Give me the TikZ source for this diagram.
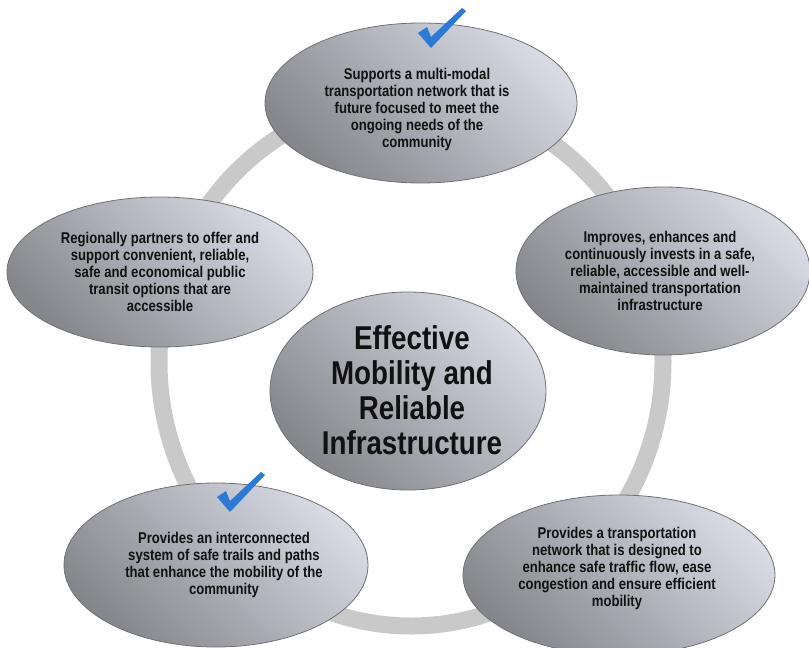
\documentclass[tikz,border=0pt]{standalone}
\usepackage{fontspec}
\setmainfont{Liberation Sans}[FakeStretch=0.84]
\usetikzlibrary{shapes.geometric}
\definecolor{ringgray}{HTML}{C9C9C9}
\definecolor{elldark}{HTML}{85868B}
\definecolor{elllight}{HTML}{D8DAE4}
\definecolor{ellline}{HTML}{707070}
\definecolor{chkblue}{HTML}{2A7AD6}
\definecolor{txtblack}{HTML}{111111}
\tikzset{
  ovalbox/.style={ellipse, draw=ellline, line width=0.8pt, inner sep=0pt,
    left color=elldark, right color=elllight, shading angle=135},
  smalltxt/.style={align=center, text=txtblack, font=\bfseries\fontsize{15.6}{17}\selectfont},
  bigtxt/.style={align=center, text=txtblack, font=\bfseries\fontsize{33}{35}\selectfont},
  ringline/.style={draw=ringgray, line width=17pt},
  checkmk/.pic={\fill[chkblue] (0,0) -- (-13,-15) -- (-4,-21) -- (0,-11) -- (31,-40) -- (35,-37) -- cycle;}
}
\begin{document}
\begin{tikzpicture}[x=1pt,y=-1pt]
\useasboundingbox (0,0) rectangle (809,648);
% ring
\draw[ringline] (411,362) ellipse (252 and 264);
% center
\node[ovalbox, minimum width=276pt, minimum height=198pt] (ctr) at (408,391) {};
% outer ellipses
\node[ovalbox, minimum width=312pt, minimum height=160pt] (etop) at (421,103) {};
\node[ovalbox, minimum width=294pt, minimum height=168pt] (eright) at (663,271) {};
\node[ovalbox, minimum width=306pt, minimum height=150pt] (eleft) at (160,272) {};
\node[ovalbox, minimum width=304pt, minimum height=164pt] (ebl) at (216,565) {};
\node[ovalbox, minimum width=312pt, minimum height=160pt] (ebr) at (619,575) {};
% texts
\node[bigtxt] (tctr) at (412,390) {Effective\\Mobility and\\Reliable\\Infrastructure};
\node[smalltxt] (ttop) at (417,109) {Supports a multi-modal\\transportation network that is\\future focused to meet the\\ongoing needs of the\\community};
\node[smalltxt] (tright) at (660,271) {Improves, enhances and\\continuously invests in a safe,\\reliable, accessible and well-\\maintained transportation\\infrastructure};
\node[smalltxt] (tleft) at (160,272) {Regionally partners to offer and\\support convenient, reliable,\\safe and economical public\\transit options that are\\accessible};
\node[smalltxt] (tbl) at (224,565) {Provides an interconnected\\system of safe trails and paths\\that enhance the mobility of the\\community};
\node[smalltxt] (tbr) at (617,568) {Provides a transportation\\network that is designed to\\enhance safe traffic flow, ease\\congestion and ensure efficient\\mobility};
% check marks
\pic at (431,48) {checkmk};
\pic at (230,512) {checkmk};
\end{tikzpicture}
\end{document}
